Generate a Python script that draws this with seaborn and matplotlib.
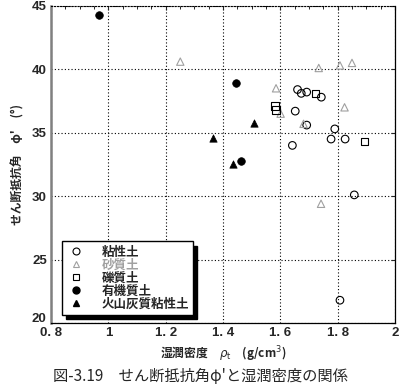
import matplotlib
matplotlib.use('Agg')
import matplotlib.pyplot as plt
import seaborn as sns
from matplotlib.lines import Line2D
from matplotlib.ticker import MultipleLocator

# data (wet density [g/cm3], friction angle [deg])
clay_x = [1.660, 1.673, 1.692, 1.743, 1.652, 1.692, 1.790, 1.777, 1.826, 1.642, 1.858, 1.808]
clay_y = [38.4, 38.1, 38.2, 37.8, 36.7, 35.6, 35.3, 34.5, 34.5, 34.0, 30.1, 21.8]

sand_x = [1.251, 1.734, 1.808, 1.850, 1.585, 1.601, 1.681, 1.824, 1.742]
sand_y = [40.6, 40.1, 40.3, 40.5, 38.5, 36.5, 35.7, 37.0, 29.4]

gravel_x = [1.723, 1.582, 1.585, 1.893]
gravel_y = [38.1, 37.1, 36.8, 34.3]

organic_x = [0.967, 1.445, 1.464]
organic_y = [44.3, 38.9, 32.8]

volcanic_x = [1.508, 1.366, 1.436]
volcanic_y = [35.8, 34.6, 32.5]

labels = ['粘性土', '砂質土', '礫質土', '有機質土', '火山灰質粘性土']
y_ticks = [20, 25, 30, 35, 40, 45]

sns.set_style('white')
plt.rcParams['font.family'] = ['Noto Sans CJK JP', 'DejaVu Sans']
plt.rcParams['mathtext.fontset'] = 'dejavusans'

fig = plt.figure(figsize=(4.0, 3.86), dpi=100)
ax = fig.add_axes([0.1275, 0.163, 0.86, 0.822])

gray = '#a0a0a0'
sns.scatterplot(x=clay_x, y=clay_y, ax=ax, marker='o', s=30, facecolor='none', edgecolor='black', linewidth=0.8)
sns.scatterplot(x=sand_x, y=sand_y, ax=ax, marker='^', s=28, facecolor='none', edgecolor=gray, linewidth=0.8)
sns.scatterplot(x=gravel_x, y=gravel_y, ax=ax, marker='s', s=30, facecolor='none', edgecolor='black', linewidth=0.8)
sns.scatterplot(x=organic_x, y=organic_y, ax=ax, marker='o', s=30, color='black', edgecolor='black', linewidth=0.5)
sns.scatterplot(x=volcanic_x, y=volcanic_y, ax=ax, marker='^', s=28, color='black', edgecolor='black', linewidth=0.5)

ax.set_xlim(0.8, 2.0)
ax.set_ylim(20, 45)
ax.xaxis.set_minor_locator(MultipleLocator(0.05))
ax.set_yticks(y_ticks)
# "20" is drawn separately, a little higher, so it clears "0. 8" like the original
ax.set_yticklabels([''] + [str(v) for v in y_ticks[1:]])
ax.set_xticks([0.8, 1.0, 1.2, 1.4, 1.6, 1.8, 2.0])
ax.set_xticklabels(['0. 8', '1', '1. 2', '1. 4', '1. 6', '1. 8', '2'])
ax.grid(True, which='major', linestyle=(0, (1, 2)), color='black', linewidth=0.8)
ax.tick_params(which='both', direction='in', top=True, right=True, labelsize=9.5, pad=3)
ax.tick_params(which='major', length=3, width=0.8)
ax.tick_params(which='minor', length=2.5, width=0.7)
tick_font = ['Liberation Sans Narrow', 'Liberation Sans']
for lab in ax.get_xticklabels() + ax.get_yticklabels():
    lab.set_family(tick_font)
    lab.set_weight('bold')
ax.annotate(str(y_ticks[0]), xy=(0, 0), xycoords='axes fraction', xytext=(-3.5, 3),
            textcoords='offset points', ha='right', va='center', fontsize=9.5,
            family=tick_font, weight='bold')

for side in ['bottom', 'right']:
    ax.spines[side].set_color('black')
    ax.spines[side].set_linewidth(0.9)
ax.spines['top'].set_linestyle(':')
ax.spines['top'].set_color('black')
ax.spines['left'].set_color('#808080')
ax.spines['left'].set_linewidth(1.8)

ax.set_xlabel('湿潤密度　$\\rho_{\\rm t}$　(g/cm$^3$)', fontsize=8.5, fontweight='bold', labelpad=4)
ax.set_ylabel("せん断抵抗角　φ'　(°)", fontsize=8.5, fontweight='bold', labelpad=5)

handles = [
    Line2D([], [], ls='none', marker='o', ms=5, mfc='none', mec='black', mew=0.8),
    Line2D([], [], ls='none', marker='^', ms=5, mfc='none', mec=gray, mew=0.8),
    Line2D([], [], ls='none', marker='s', ms=5, mfc='none', mec='black', mew=0.8),
    Line2D([], [], ls='none', marker='o', ms=5, mfc='black', mec='black'),
    Line2D([], [], ls='none', marker='^', ms=5, mfc='black', mec='black'),
]
leg = ax.legend(handles, labels, loc='lower left', bbox_to_anchor=(0.032, 0.025), borderaxespad=0,
                frameon=True, fancybox=False, edgecolor='black', framealpha=1,
                shadow={'ox': 3, 'oy': -3, 'color': 'black', 'alpha': 1},
                prop={'size': 9, 'weight': 'bold'}, labelspacing=0.0, handletextpad=1.3,
                handlelength=1.5, borderpad=0.35)
leg.get_frame().set_linewidth(1.0)
leg.get_texts()[1].set_color(gray)

fig.text(0.5, 1 - 376 / 386, "図-3.19　せん断抵抗角φ'と湿潤密度の関係", ha='center', va='center', fontsize=11)

fig.savefig('out.png', dpi=100)
